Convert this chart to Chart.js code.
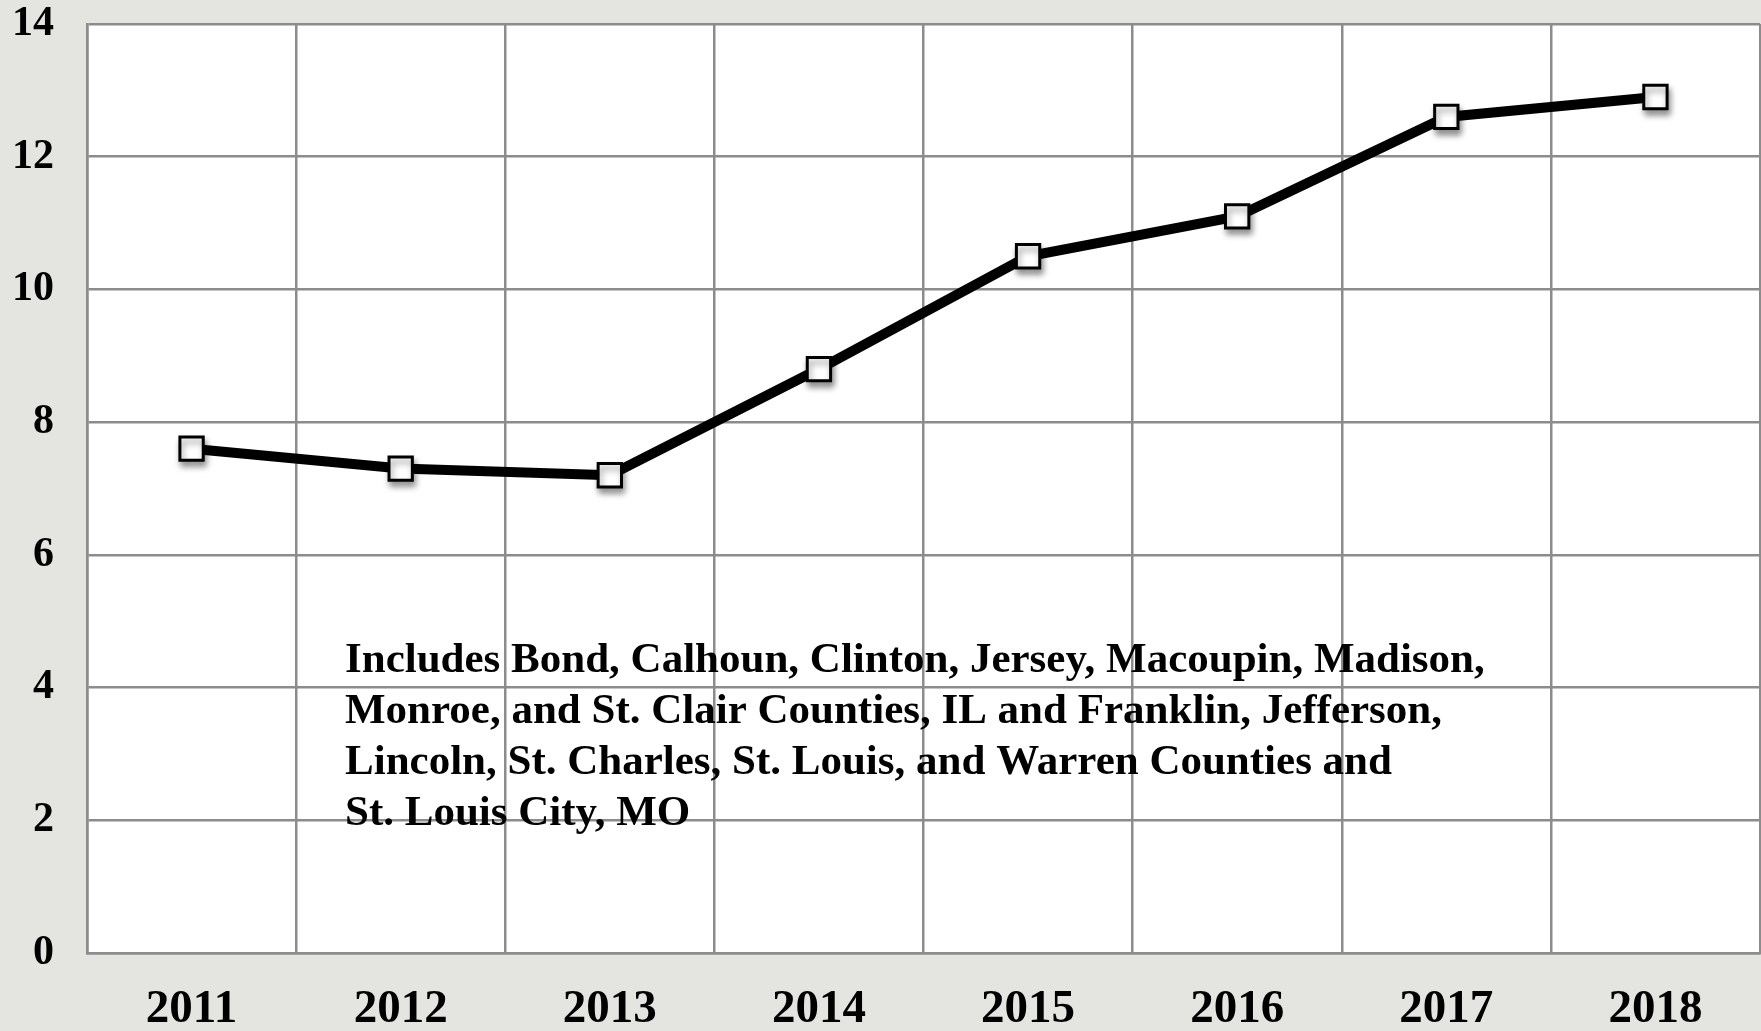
<!DOCTYPE html>
<html>
<head>
<meta charset="utf-8">
<script src="https://cdn.jsdelivr.net/npm/chart.js@4/dist/chart.umd.min.js"></script>
<style>
  html, body { margin: 0; padding: 0; background: #e4e4e0; overflow: hidden; }
  #wrap { width: 1761px; height: 1031px; }
  canvas { display: block; }
</style>
</head>
<body>
<div id="wrap"><canvas id="chart" width="1761" height="1031"></canvas></div>
<script>
const years = ['2011', '2012', '2013', '2014', '2015', '2016', '2017', '2018'];
const values = [7.6, 7.3, 7.2, 8.8, 10.5, 11.1, 12.6, 12.9];
const yTicks = [0, 2, 4, 6, 8, 10, 12, 14];
const noteLines = [
  'Includes Bond, Calhoun, Clinton, Jersey, Macoupin, Madison,',
  'Monroe, and St. Clair Counties, IL and Franklin, Jefferson,',
  'Lincoln, St. Charles, St. Louis, and Warren Counties and',
  'St. Louis City, MO'
];

const serif = '"Liberation Serif", "Times New Roman", serif';

// white plot area, note text, and marker shadow
const plotDecor = {
  id: 'plotDecor',
  beforeDraw(chart) {
    const { ctx, chartArea: a } = chart;
    ctx.save();
    ctx.fillStyle = '#ffffff';
    ctx.fillRect(a.left, a.top, a.right - a.left, a.bottom - a.top);
    ctx.restore();
  },
  beforeDatasetsDraw(chart) {
    const { ctx, chartArea: a } = chart;
    ctx.save();
    ctx.fillStyle = '#000';
    ctx.font = 'bold 43px ' + serif;
    ctx.textAlign = 'left';
    ctx.textBaseline = 'alphabetic';
    const x = a.left + 258;
    noteLines.forEach((line, i) => ctx.fillText(line, x, 672 + i * 51));
    ctx.restore();
  },
  beforeDatasetDraw(chart, args) {
    const ctx = chart.ctx;
    ctx.save();
    if (args.index === 1) {
      ctx.shadowColor = 'rgba(0,0,0,0.4)';
      ctx.shadowBlur = 6;
      ctx.shadowOffsetX = 2;
      ctx.shadowOffsetY = 5;
    }
  },
  afterDatasetDraw(chart) {
    chart.ctx.restore();
  }
};

new Chart(document.getElementById('chart'), {
  type: 'line',
  data: {
    labels: years,
    datasets: [{
      data: values,
      borderColor: '#000',
      borderWidth: 10,
      tension: 0,
      pointRadius: 0,
      order: 2
    }, {
      data: values,
      showLine: false,
      pointStyle: 'rect',
      pointRadius: 16.5,
      pointBackgroundColor: '#fff',
      pointBorderColor: '#000',
      pointBorderWidth: 3,
      order: 1
    }]
  },
  options: {
    responsive: false,
    animation: false,
    layout: { autoPadding: false, padding: { top: 24, right: 1, left: 0, bottom: 0 } },
    plugins: { legend: { display: false }, tooltip: { enabled: false } },
    scales: {
      x: {
        type: 'category',
        offset: true,
        grid: { offset: true, color: '#8c8c8c', lineWidth: 2.5, drawTicks: false },
        border: { color: '#8c8c8c', width: 2.5 },
        ticks: { color: '#000', padding: 29, font: { family: serif, size: 47, weight: 'bold' } },
        afterFit(scale) {
          scale.height = 78;
          scale.paddingLeft = 0;
          scale.paddingRight = 0;
        }
      },
      y: {
        min: 0,
        max: 14,
        afterBuildTicks(scale) { scale.ticks = yTicks.map(v => ({ value: v })); },
        grid: { color: '#8c8c8c', lineWidth: 2.5, drawTicks: false },
        border: { color: '#8c8c8c', width: 2.5 },
        ticks: { color: '#000', padding: 33, font: { family: serif, size: 42, weight: 'bold' } },
        afterFit(scale) {
          scale.width = 87;
          scale.paddingTop = 0;
          scale.paddingBottom = 0;
        }
      }
    }
  },
  plugins: [plotDecor]
});
</script>
</body>
</html>
